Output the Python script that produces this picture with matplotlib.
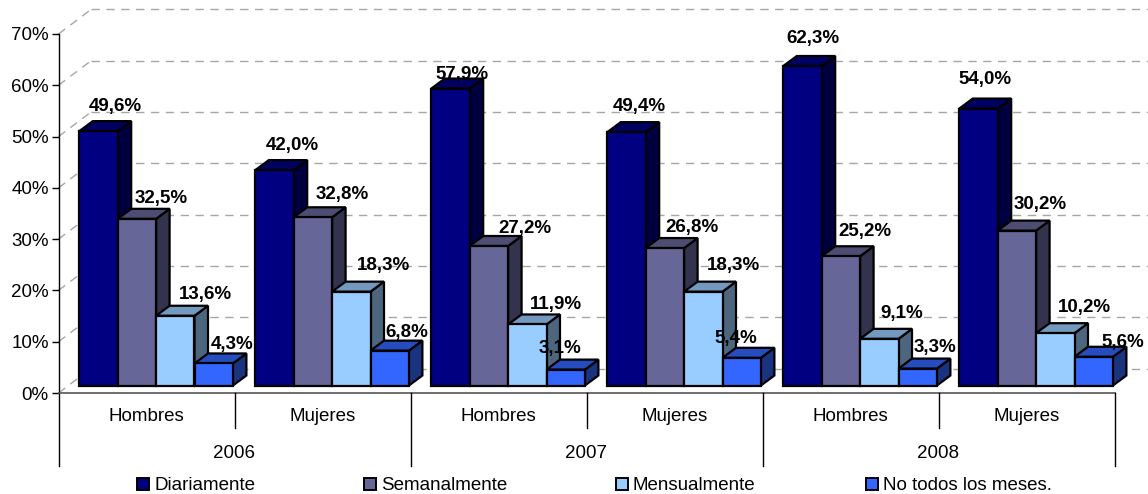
import matplotlib
matplotlib.use("Agg")
import matplotlib.pyplot as plt
from matplotlib.patches import Polygon

plt.rcParams["font.family"] = ["Liberation Sans", "DejaVu Sans"]

# -------------------------------
# DATA
# -------------------------------
years = ["2006", "2007", "2008"]
genders = ["Hombres", "Mujeres"] * 3
series_names = ["Diariamente", "Semanalmente", "Mensualmente", "No todos los meses."]

diariamente = [49.6, 42.0, 57.9, 49.4, 62.3, 54.0]
semanalmente = [32.5, 32.8, 27.2, 26.8, 25.2, 30.2]
mensualmente = [13.6, 18.3, 11.9, 18.3, 9.1, 10.2]
no_todos = [4.3, 6.8, 3.1, 5.4, 3.3, 5.6]
series = [diariamente, semanalmente, mensualmente, no_todos]

# label positions in pixels (the original labels were moved by hand)
label_px = [
    [(115, 106), (292, 145), (462, 74), (639, 106), (813, 38), (985, 79)],
    [(161.5, 198), (342, 194), (524.5, 228), (692, 227), (865, 231), (1040, 204)],
    [(205, 294), (384, 265), (556, 304), (733, 265), (902, 313), (1084, 307)],
    [(232, 344), (407, 332), (560, 348), (736, 338), (935, 347), (1123, 342)],
]
legend_px = [136.5, 363.5, 615.5, 865.5]

# (front, top, side)
colors = [
    ("#000080", "#000060", "#000040"),
    ("#666699", "#4D4D73", "#33334D"),
    ("#99CCFF", "#7399BF", "#4D6680"),
    ("#3366FF", "#264DBF", "#1A3380"),
]

# -------------------------------
# LAYOUT
# -------------------------------
W, H = 1148, 494
X0, X1 = 58.5, 1114.5
Y0, Y70 = 393.0, 34.0
PX_X = (X1 - X0) / 6  # pixels per category
PX_Y = (Y0 - Y70) / 70  # pixels per percent

fig = plt.figure(figsize=(W / 100, H / 100), dpi=100, facecolor="white")
ax = fig.add_axes([X0 / W, 1 - Y0 / H, (X1 - X0) / W, (Y0 - Y70) / H])
ax.set_xlim(0, 6)
ax.set_ylim(0, 70)


def dx(px):
    return px / PX_X


def dy(px):
    return px / PX_Y


def pix(x, y):
    return (x - X0) / PX_X, (Y0 - y) / PX_Y


FS = 13.5
GRID = "#A6A6A6"

# -------------------------------
# BACK WALL GRID
# -------------------------------
wall_dx, wall_dy = dx(32.5), dy(24.5)
for v in range(0, 80, 10):
    ax.plot([0, wall_dx], [v, v + wall_dy], color=GRID, lw=1, ls=(0, (6, 4.7)),
            clip_on=False, zorder=1)
    ax.plot([wall_dx, dx(W - X0)], [v + wall_dy, v + wall_dy], color=GRID, lw=1,
            ls=(0, (6, 4.7)), clip_on=False, zorder=1)

# -------------------------------
# BARS
# -------------------------------
bar_w = dx(38.4)
depth_x, depth_y = dx(13.5), dy(10)
base = dy(7.5)
start = dx(79.3 - X0)

for s, values in enumerate(series):
    front, top, side = colors[s]
    for g, v in enumerate(values):
        x = start + g + s * bar_w
        y = base + v
        style = dict(ec="black", lw=1.6, joinstyle="miter", clip_on=False, zorder=3 + s)
        ax.add_patch(Polygon([(x + bar_w, base), (x + bar_w + depth_x, base + depth_y),
                              (x + bar_w + depth_x, y + depth_y), (x + bar_w, y)],
                             fc=side, **style))
        ax.add_patch(Polygon([(x, y), (x + depth_x, y + depth_y),
                              (x + bar_w + depth_x, y + depth_y), (x + bar_w, y)],
                             fc=top, **style))
        ax.add_patch(Polygon([(x, base), (x + bar_w, base), (x + bar_w, y), (x, y)],
                             fc=front, **style))

# -------------------------------
# VALUE LABELS
# -------------------------------
for s, values in enumerate(series):
    for g, v in enumerate(values):
        px, py = pix(*label_px[s][g])
        ax.text(px, py, f"{v:.1f}%".replace(".", ","), ha="center", va="center",
                fontsize=FS, fontweight="bold", color="black", zorder=10, clip_on=False)

# -------------------------------
# AXES
# -------------------------------
for side in ["top", "right", "bottom", "left"]:
    ax.spines[side].set_visible(False)
ax.patch.set_visible(False)

ax.set_yticks(range(0, 80, 10))
ax.set_yticklabels([f"{v}%" for v in range(0, 80, 10)], fontsize=FS)
ax.tick_params(axis="y", length=5, width=1, color="black", pad=2)
ax.set_xticks([])

# axis lines and the two level category axis
axis_low = (Y0 - 466) / PX_Y
gender_low = (Y0 - 428) / PX_Y
ax.plot([0, 0], [70, axis_low], color="black", lw=1, clip_on=False, zorder=2)
ax.plot([0, 6], [0, 0], color="#555555", lw=1.2, clip_on=False, zorder=2)
for i in range(1, 7):
    low = axis_low if i % 2 == 0 else gender_low
    ax.plot([i, i], [0, low], color="black", lw=1, clip_on=False, zorder=2)

for i, name in enumerate(genders):
    ax.text(i + 0.5, (Y0 - 416) / PX_Y, name, ha="center", va="center", fontsize=FS)
for i, year in enumerate(years):
    ax.text(2 * i + 1, (Y0 - 453) / PX_Y, year, ha="center", va="center", fontsize=FS)

# -------------------------------
# LEGEND
# -------------------------------
for s, name in enumerate(series_names):
    lx, ly = pix(legend_px[s], 490)
    ax.add_patch(Polygon([(lx, ly), (lx + dx(12.5), ly), (lx + dx(12.5), ly + dy(12.5)), (lx, ly + dy(12.5))],
                         fc=colors[s][0], ec="black", lw=1.4, clip_on=False))
    ax.text(lx + dx(17.5), (Y0 - 485) / PX_Y, name, ha="left", va="center", fontsize=FS)

fig.savefig("out.png", dpi=100)
